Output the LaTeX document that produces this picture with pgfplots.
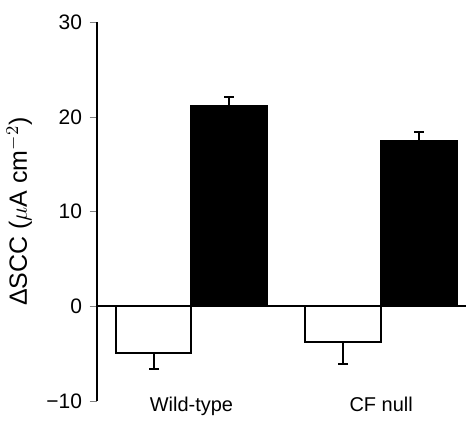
\documentclass[border=0pt]{standalone}
\usepackage{pgfplots}
\pgfplotsset{compat=1.18}
\usepackage{fontspec}
\setmainfont{Liberation Sans}

\begin{document}
\begin{tikzpicture}
\begin{axis}[
    name=main,
    scale only axis,
    width=185pt, height=190pt,
    xmin=0.5, xmax=2.447,
    ymin=-10, ymax=30,
    axis y line*=left,
    axis x line*=bottom,
    x axis line style={draw=none},
    xtick={1,2},
    xticklabels={Wild-type, CF null},
    x tick style={draw=none},
    ytick={-10,0,10,20,30},
    yticklabels={−10,0,10,20,30},
    tick align=outside,
    major tick length=3.5pt,
    ylabel={ΔSCC ($\mu$A cm$^{-2}$)},
    yticklabel style={font=\fontsize{10.5}{12}\selectfont},
    xticklabel style={font=\fontsize{10}{12}\selectfont, yshift=9.5pt},
    ylabel style={font=\fontsize{12.5}{14}\selectfont},
    line width=1pt,
    bar width=0.4,
    clip=false,
]
  % zero line
  \addplot[black, line width=1pt] coordinates {(0.5,0) (2.447,0)};

  % control (open bars), error drawn downwards
  \addplot[ybar, bar shift=0, draw=black, fill=white, line width=1pt,
      error bars/.cd, y dir=minus, y explicit,
      error mark options={rotate=90, mark size=2.5pt, line width=1pt},
      error bar style={line width=1pt}]
    coordinates {(0.8,-4.95) -= (0,1.65) (1.8,-3.75) -= (0,2.35)};

  % stimulated (filled bars), error drawn upwards
  \addplot[ybar, bar shift=0, draw=black, fill=black, line width=1pt,
      error bars/.cd, y dir=plus, y explicit,
      error mark options={rotate=90, mark size=2.5pt, line width=1pt},
      error bar style={line width=1pt}]
    coordinates {(1.2,21.1) += (0,1.0) (2.2,17.4) += (0,0.95)};
\end{axis}
\path (main.north west) ++(0,11pt);
\end{tikzpicture}
\end{document}
